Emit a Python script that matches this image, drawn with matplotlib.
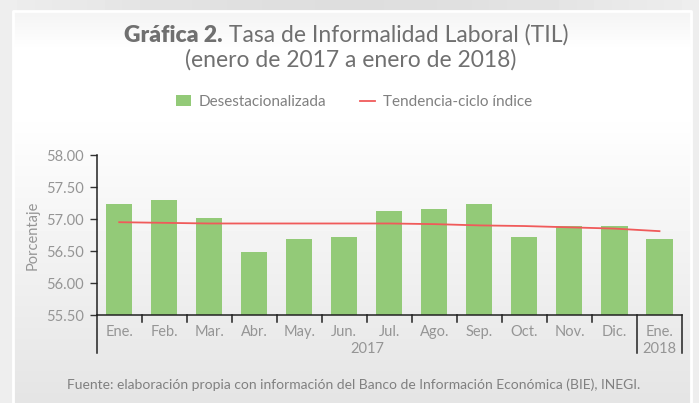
import numpy as np
import matplotlib.pyplot as plt

plt.rcParams['font.family'] = ['Lato', 'DejaVu Sans']

# data
meses = ['Ene.', 'Feb.', 'Mar.', 'Abr.', 'May.', 'Jun.', 'Jul.', 'Ago.',
         'Sep.', 'Oct.', 'Nov.', 'Dic.', 'Ene.']
anios = ['2017', '2018']
desestacionalizada = [57.24, 57.30, 57.01, 56.49, 56.68, 56.72, 57.13,
                      57.15, 57.24, 56.72, 56.89, 56.89, 56.68]
tendencia = [56.95, 56.94, 56.93, 56.93, 56.93, 56.93, 56.93, 56.92,
             56.90, 56.89, 56.87, 56.85, 56.81]

W, H = 699, 403
fig = plt.figure(figsize=(W / 100, H / 100), dpi=100)
fig.patch.set_facecolor('#e6e6e6')

# outer background with panel gradient
bg = fig.add_axes([0, 0, 1, 1], zorder=-10)
bg.set_xlim(0, W)
bg.set_ylim(H, 0)
bg.axis('off')
outer = np.linspace(0, 1, 40)
bg.imshow(np.tile((0.93 - 0.06 * np.abs(np.sin(np.pi * outer)))[None, :], (2, 1)),
          cmap='gray', vmin=0, vmax=1, extent=[0, W, H, 0], aspect='auto')
g = np.concatenate([np.linspace(0.955, 1.0, 40), np.linspace(1.0, 1.0, 60),
                    np.linspace(1.0, 0.895, 292)])
bg.imshow(g[:, None], cmap='gray', vmin=0, vmax=1, extent=[13, 691, H, 11],
          aspect='auto')
bg.plot([13, 13, 691, 691], [H, 11, 11, H], color='white', lw=2)

lab = dict(fontsize=10.5, color='#959595')

ax = fig.add_axes([96.7 / W, 1 - 315 / H, (682 - 96.7) / W, 160 / H])
ax.patch.set_alpha(0)
x = np.arange(len(meses))
barras = ax.bar(x, desestacionalizada, width=0.58, color='#93ca78', zorder=2)
linea, = ax.plot(x, tendencia, color='#f05a5a', lw=1.3, zorder=3)
ax.set_xlim(-0.5, 12.5)
ax.set_ylim(55.5, 58.0)
yt = np.arange(55.5, 58.01, 0.5)
ax.set_yticks(yt)
ax.set_yticklabels(['%.2f' % v for v in yt], **lab)
ax.tick_params(axis='y', length=5, width=1, color='#333333', pad=4)
ax.set_xticks([])
for s in ['top', 'right']:
    ax.spines[s].set_visible(False)
for s in ['left', 'bottom']:
    ax.spines[s].set_color('#222222')
    ax.spines[s].set_linewidth(1.1)
ax.set_ylabel('Porcentaje', labelpad=5, **lab)

# category axis drawn by hand
tr = ax.get_xaxis_transform()
for xi in np.arange(0.5, 11.5, 1):
    ax.plot([xi, xi], [0, -0.044], color='#222222', lw=1.1, transform=tr,
            clip_on=False)
for xi in [-0.5, 11.5, 12.5]:
    ax.plot([xi, xi], [0, -0.24], color='#222222', lw=1.1, transform=tr,
            clip_on=False)
for xi, m in zip(x, meses):
    ax.text(xi, -0.105, m, transform=tr, ha='center', va='center', **lab)
ax.text(5.5, -0.21, anios[0], transform=tr, ha='center', va='center', **lab)
ax.text(12, -0.21, anios[1], transform=tr, ha='center', va='center', **lab)

# titles
tc = '#707070'
t1 = fig.text(351 / W, 1 - 35 / H, 'Gráfica 2. Tasa de Informalidad Laboral (TIL)',
              ha='center', va='center', fontsize=16.5, color=tc, fontweight='heavy')
t1.set_alpha(0)
fig.canvas.draw()
r = fig.canvas.get_renderer()
full = t1.get_window_extent(r)
tb = fig.text(full.x0 / W, 1 - 35 / H, 'Gráfica 2.', ha='left', va='center',
              fontsize=16.5, color=tc, fontweight='heavy')
bb = tb.get_window_extent(r)
fig.text(bb.x1 / W, 1 - 35 / H, ' Tasa de Informalidad Laboral (TIL)',
         ha='left', va='center', fontsize=16.5, color=tc)
fig.text(351 / W, 1 - 60 / H, '(enero de 2017 a enero de 2018)',
         ha='center', va='center', fontsize=16.5, color=tc)

fig.legend([barras, linea], ['Desestacionalizada', 'Tendencia-ciclo índice'],
           loc='center', bbox_to_anchor=(354 / W, 1 - 102 / H), ncol=2,
           frameon=False, fontsize=11, labelcolor='#808080',
           handlelength=1.0, handleheight=0.7, columnspacing=2.2,
           handletextpad=0.5)

fig.text(354 / W, 1 - 385 / H,
         'Fuente: elaboración propia con información del Banco de Información Económica (BIE), INEGI.',
         ha='center', va='center', fontsize=10, color='#808080')

fig.savefig('out.png', dpi=100, facecolor=fig.get_facecolor())
